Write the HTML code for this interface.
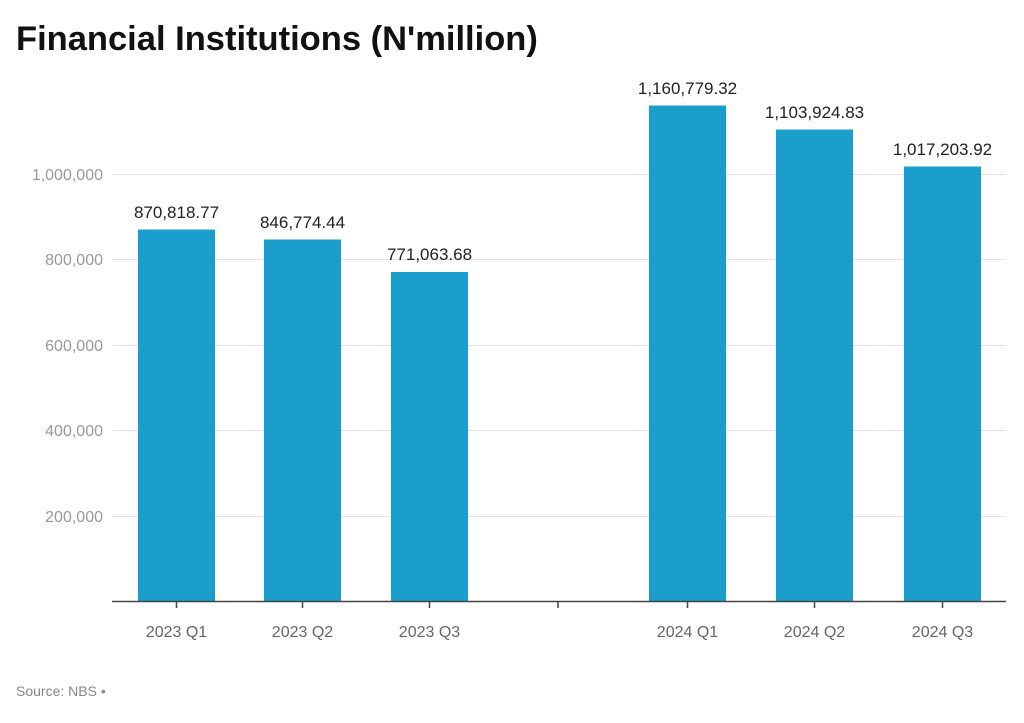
<!DOCTYPE html>
<html><head><meta charset="utf-8"><style>
body{margin:0;background:#fff;width:1024px;height:718px;overflow:hidden;font-family:"Liberation Sans",sans-serif}
</style></head><body>
<svg width="1024" height="718" xmlns="http://www.w3.org/2000/svg" font-family="Liberation Sans, sans-serif">
<text x="16" y="50" font-size="34.5" font-weight="bold" fill="#111">Financial Institutions (N'million)</text>
<g stroke="#e3e3e3" stroke-width="1">
<line x1="112" x2="1006" y1="174.5" y2="174.5"/>
<line x1="112" x2="1006" y1="259.5" y2="259.5"/>
<line x1="112" x2="1006" y1="345.5" y2="345.5"/>
<line x1="112" x2="1006" y1="430.5" y2="430.5"/>
<line x1="112" x2="1006" y1="516.5" y2="516.5"/>
</g>
<g fill="#999" font-size="16" text-anchor="end">
<text x="103" y="180">1,000,000</text>
<text x="103" y="265">800,000</text>
<text x="103" y="351">600,000</text>
<text x="103" y="436">400,000</text>
<text x="103" y="522">200,000</text>
</g>
<g fill="#1a9fcc">
<rect x="138" y="229.5" width="77" height="372"/>
<rect x="264" y="239.5" width="77" height="362"/>
<rect x="391" y="272" width="77" height="329.5"/>
<rect x="649" y="105.5" width="77" height="496"/>
<rect x="776" y="129.5" width="77" height="472"/>
<rect x="904" y="166.5" width="77" height="435"/>
</g>
<line x1="112" x2="1006" y1="601.5" y2="601.5" stroke="#444" stroke-width="1.5"/>
<g stroke="#444" stroke-width="1.5">
<line x1="176.5" x2="176.5" y1="601" y2="608"/>
<line x1="302.5" x2="302.5" y1="601" y2="608"/>
<line x1="429.5" x2="429.5" y1="601" y2="608"/>
<line x1="558" x2="558" y1="601" y2="608"/>
<line x1="687.5" x2="687.5" y1="601" y2="608"/>
<line x1="814.5" x2="814.5" y1="601" y2="608"/>
<line x1="942.5" x2="942.5" y1="601" y2="608"/>
</g>
<g fill="#222" font-size="17" text-anchor="middle">
<text x="176.5" y="218">870,818.77</text>
<text x="302.5" y="228">846,774.44</text>
<text x="429.5" y="260">771,063.68</text>
<text x="687.5" y="94">1,160,779.32</text>
<text x="814.5" y="118">1,103,924.83</text>
<text x="942.5" y="155">1,017,203.92</text>
</g>
<g fill="#666" font-size="16" text-anchor="middle">
<text x="176.5" y="637">2023 Q1</text>
<text x="302.5" y="637">2023 Q2</text>
<text x="429.5" y="637">2023 Q3</text>
<text x="687.5" y="637">2024 Q1</text>
<text x="814.5" y="637">2024 Q2</text>
<text x="942.5" y="637">2024 Q3</text>
</g>
<text x="16" y="696" font-size="14" fill="#888">Source: NBS •</text>
</svg>
</body></html>
